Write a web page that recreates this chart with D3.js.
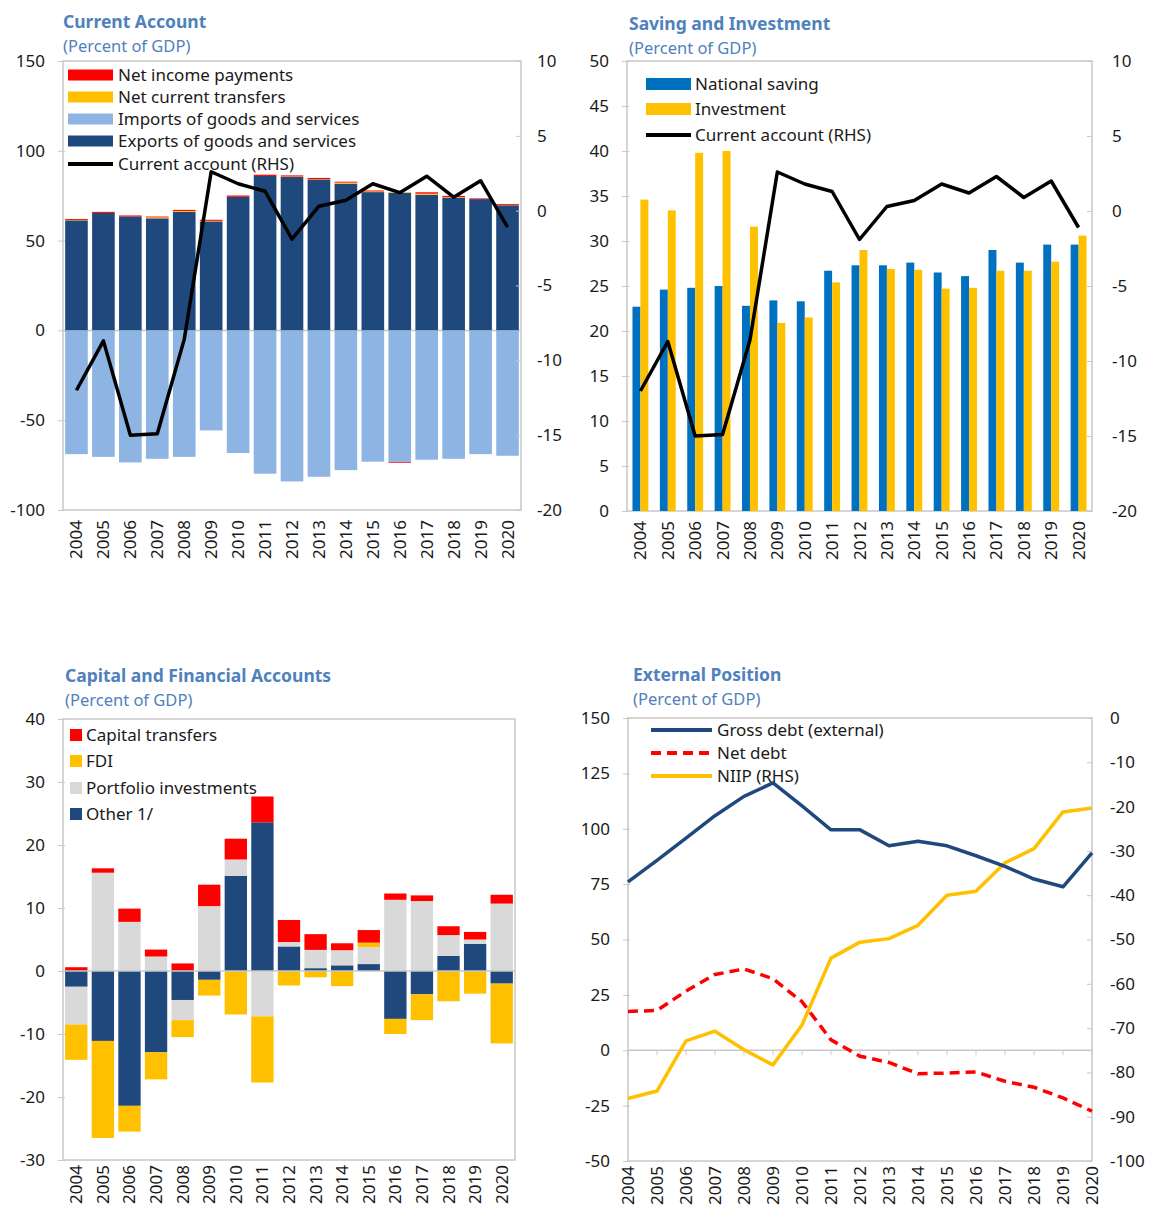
<!DOCTYPE html>
<html><head><meta charset="utf-8">
<script src="https://cdn.jsdelivr.net/npm/d3@7/dist/d3.min.js"></script>
<style>
body{margin:0;background:#fff;}
text{font-family:"Noto Sans","Open Sans",sans-serif;}
</style></head>
<body>
<svg id="c" width="1149" height="1212"></svg>
<script>
// ---------------- DATA ----------------
const years = ["2004","2005","2006","2007","2008","2009","2010","2011","2012","2013","2014","2015","2016","2017","2018","2019","2020"];

// Panel 1: Current Account (percent of GDP)
const caExports   = [61.3,65.4,63.4,62.4,66.0,60.7,74.4,86.0,85.4,84.1,81.7,77.0,76.6,75.5,74.0,73.1,69.7];
const caImports   = [-68.9,-70.4,-73.5,-71.5,-70.4,-55.7,-68.3,-79.8,-84.1,-81.5,-77.8,-73.1,-73.3,-72.0,-71.5,-68.9,-69.8];
const caTransfers = [0.2,0,0,0.6,0.5,0.3,0,0,0.3,0.2,0.6,0.4,0.4,0.6,0.3,0,0.2];
const caIncome    = [0.5,0.6,0.6,0.4,0.6,0.6,0.7,0.7,0.6,0.6,0.5,0.5,-0.4,0.8,0.6,0.4,0.5];
const caBalance   = [-12.0,-8.7,-15.0,-14.9,-8.6,2.6,1.8,1.3,-1.9,0.3,0.7,1.8,1.2,2.3,0.9,2.0,-1.1];

// Panel 2: Saving and Investment
const nationalSaving = [22.7,24.6,24.8,25.0,22.8,23.4,23.3,26.7,27.3,27.3,27.6,26.5,26.1,29.0,27.6,29.6,29.6];
const investment     = [34.6,33.4,39.8,40.0,31.6,20.9,21.5,25.4,29.0,26.9,26.8,24.7,24.8,26.7,26.7,27.7,30.6];

// Panel 3: Capital and Financial Accounts
const cfOther     = [-2.5,-11.1,-21.4,-12.9,-4.6,-1.4,15.1,23.6,3.9,0.45,0.9,1.1,-7.6,-3.7,2.4,4.3,-2.0];
const cfPortfolio = [-6.0,15.6,7.8,2.3,-3.2,10.3,2.6,-7.2,0.7,2.9,2.4,2.7,11.3,11.1,3.3,0.7,10.7];
const cfFDI       = [-5.6,-15.4,-4.1,-4.3,-2.7,-2.5,-6.9,-10.5,-2.3,-1.0,-2.4,0.7,-2.4,-4.1,-4.8,-3.6,-9.5];
const cfCapital   = [0.6,0.7,2.1,1.1,1.2,3.4,3.3,4.1,3.5,2.5,1.1,2.0,1.0,0.9,1.4,1.2,1.4];

// Panel 4: External Position
const grossDebt = [76.0,85.7,95.8,105.9,114.6,120.7,110.3,99.5,99.5,92.3,94.4,92.3,87.8,83.0,77.3,73.8,89.1];
const netDebt   = [17.5,18.0,26.7,34.2,36.7,32.3,21.9,4.7,-2.7,-5.5,-10.6,-10.3,-9.8,-14.0,-16.7,-21.5,-27.5];
const niip      = [-85.9,-84.2,-72.9,-70.7,-74.9,-78.3,-69.3,-54.2,-50.6,-49.8,-46.8,-40.0,-39.1,-32.7,-29.5,-21.2,-20.3];

// Tick labels
const p1Left = [150,100,50,0,-50,-100], p1Right = [10,5,0,-5,-10,-15,-20];
const p2Left = [0,5,10,15,20,25,30,35,40,45,50], p2Right = [10,5,0,-5,-10,-15,-20];
const p3Left = [40,30,20,10,0,-10,-20,-30];
const p4Left = [150,125,100,75,50,25,0,-25,-50], p4Right = [0,-10,-20,-30,-40,-50,-60,-70,-80,-90,-100];

// ---------------- STYLE ----------------
const C = {
  darkBlue:"#1F497D", lightBlue:"#8DB4E2", red:"#FF0000", yellow:"#FFC000",
  blue:"#0070C0", gray:"#D9D9D9", title:"#4F81BD", frame:"#C8C8C8", text:"#1a1a1a"
};
const FS = 17;
const LFS = 17;
const svg = d3.select("#c");
const fmt = d => String(d);

function frame(g, x0, x1, y0, y1){
  g.append("rect").attr("x",x0).attr("y",y0).attr("width",x1-x0).attr("height",y1-y0)
   .attr("fill","none").attr("stroke",C.frame).attr("stroke-width",1.5);
}
function titles(x, y, t){
  svg.append("text").attr("x",x).attr("y",y).attr("fill",C.title).attr("font-weight","bold")
    .attr("font-size",17.5).text(t);
  svg.append("text").attr("x",x).attr("y",y+24).attr("fill",C.title).attr("font-size",16.5)
    .text("(Percent of GDP)");
}
function leftAxis(scale, ticks, x0, labelX){
  const ax = d3.axisLeft(scale).tickValues(ticks).tickFormat(fmt).tickSize(5).tickPadding(0);
  const g = svg.append("g").attr("transform",`translate(${x0},0)`).call(ax);
  g.select(".domain").remove();
  g.selectAll(".tick line").attr("stroke",C.frame).attr("x2",-5).attr("x1",2);
  g.selectAll(".tick text").attr("x",labelX - x0).attr("font-size",FS).attr("fill",C.text)
    .attr("font-family",'"Noto Sans",sans-serif').attr("text-anchor","end");
}
function rightAxis(scale, ticks, x1, labelX){
  const ax = d3.axisRight(scale).tickValues(ticks).tickFormat(fmt).tickSize(5).tickPadding(0);
  const g = svg.append("g").attr("transform",`translate(${x1},0)`).call(ax);
  g.select(".domain").remove();
  g.selectAll(".tick line").attr("stroke",C.frame).attr("x1",-5).attr("x2",0);
  g.selectAll(".tick text").attr("x",labelX - x1).attr("font-size",FS).attr("fill",C.text)
    .attr("font-family",'"Noto Sans",sans-serif').attr("text-anchor","start");
}
function xLabels(posFn, yTop){
  svg.append("g").selectAll("text").data(years).join("text")
    .attr("transform",d=>`translate(${posFn(d)+6},${yTop}) rotate(-90)`)
    .attr("text-anchor","end").attr("font-size",FS).attr("fill",C.text).text(d=>d);
}
function legendRect(items, x, w, h, tx){
  items.forEach(it=>{
    if(it.line){
      svg.append("line").attr("x1",x).attr("x2",x+w).attr("y1",it.y).attr("y2",it.y)
        .attr("stroke",it.color).attr("stroke-width",4).attr("stroke-dasharray",it.dash||null);
    } else {
      svg.append("rect").attr("x",x).attr("y",it.y-h/2).attr("width",w).attr("height",h).attr("fill",it.color);
    }
    svg.append("text").attr("x",tx).attr("y",it.y).attr("dy","0.35em").attr("font-size",LFS)
      .attr("fill",C.text).text(it.label);
  });
}

// ---------------- PANEL 1 ----------------
(function(){
  const X0=63,X1=521,Y0=61,Y1=510;
  const g = svg.append("g");
  frame(g,X0,X1,Y0,Y1);
  const x = d3.scaleBand().domain(years).range([X0,X1]).paddingInner(0.16).paddingOuter(0.08);
  const y = d3.scaleLinear().domain([-100,150]).range([Y1,Y0]);
  const yR = d3.scaleLinear().domain([-20,10]).range([Y1,Y0]);
  const rows = years.map((yr,i)=>({year:yr, exports:caExports[i], imports:caImports[i], transfers:caTransfers[i], income:caIncome[i]}));
  const keys = ["exports","imports","transfers","income"];
  const col = {exports:C.darkBlue, imports:C.lightBlue, transfers:C.yellow, income:C.red};
  const st = d3.stack().keys(keys).offset(d3.stackOffsetDiverging)(rows);
  g.append("line").attr("x1",X0).attr("x2",X1).attr("y1",y(0)).attr("y2",y(0)).attr("stroke",C.frame).attr("stroke-width",1.5);
  st.forEach(s=>{
    g.append("g").selectAll("rect").data(s).join("rect")
      .attr("x",d=>x(d.data.year)).attr("width",x.bandwidth())
      .attr("y",d=>y(Math.max(d[0],d[1]))).attr("height",d=>Math.abs(y(d[0])-y(d[1])))
      .attr("fill",col[s.key]);
  });
  const line = d3.line().x((d,i)=>x(years[i])+x.bandwidth()/2).y(d=>yR(d));
  g.append("path").attr("d",line(caBalance)).attr("fill","none").attr("stroke","#000").attr("stroke-width",3.5).attr("stroke-linejoin","round");
  leftAxis(y,p1Left,X0,45);
  rightAxis(yR,p1Right,X1,537);
  xLabels(d=>x(d)+x.bandwidth()/2, Y1+10);
  titles(63,28,"Current Account");
  legendRect([
    {y:75,color:C.red,label:"Net income payments"},
    {y:97,color:C.yellow,label:"Net current transfers"},
    {y:119,color:C.lightBlue,label:"Imports of goods and services"},
    {y:141,color:C.darkBlue,label:"Exports of goods and services"},
    {y:164,color:"#000",label:"Current account (RHS)",line:true}
  ],68,45,11,118);
})();

// ---------------- PANEL 2 ----------------
(function(){
  const X0=627,X1=1092,Y0=61,Y1=511;
  const g = svg.append("g");
  frame(g,X0,X1,Y0,Y1);
  const x = d3.scaleBand().domain(years).range([X0,X1]).paddingInner(0.42).paddingOuter(0.2);
  const x1 = d3.scaleBand().domain(["s","i"]).range([0,x.bandwidth()]);
  const y = d3.scaleLinear().domain([0,50]).range([Y1,Y0]);
  const yR = d3.scaleLinear().domain([-20,10]).range([Y1,Y0]);
  const rows = years.map((yr,i)=>({year:yr, s:nationalSaving[i], i:investment[i]}));
  g.append("g").selectAll("rect").data(rows).join("rect")
    .attr("x",d=>x(d.year)+x1("s")).attr("width",x1.bandwidth())
    .attr("y",d=>y(d.s)).attr("height",d=>y(0)-y(d.s)).attr("fill",C.blue);
  g.append("g").selectAll("rect").data(rows).join("rect")
    .attr("x",d=>x(d.year)+x1("i")).attr("width",x1.bandwidth())
    .attr("y",d=>y(d.i)).attr("height",d=>y(0)-y(d.i)).attr("fill",C.yellow);
  const line = d3.line().x((d,i)=>x(years[i])+x.bandwidth()/2).y(d=>yR(d));
  g.append("path").attr("d",line(caBalance)).attr("fill","none").attr("stroke","#000").attr("stroke-width",3.5).attr("stroke-linejoin","round");
  leftAxis(y,p2Left,X0,609);
  rightAxis(yR,p2Right,X1,1112);
  xLabels(d=>x(d)+x.bandwidth()/2, Y1+10);
  titles(629,30,"Saving and Investment");
  legendRect([
    {y:84,color:C.blue,label:"National saving"},
    {y:109,color:C.yellow,label:"Investment"},
    {y:135,color:"#000",label:"Current account (RHS)",line:true}
  ],646,45,12,695);
})();

// ---------------- PANEL 3 ----------------
(function(){
  const X0=63,X1=515,Y0=719,Y1=1160;
  const g = svg.append("g");
  frame(g,X0,X1,Y0,Y1);
  const x = d3.scaleBand().domain(years).range([X0,X1]).paddingInner(0.16).paddingOuter(0.08);
  const y = d3.scaleLinear().domain([-30,40]).range([Y1,Y0]);
  const rows = years.map((yr,i)=>({year:yr, other:cfOther[i], portfolio:cfPortfolio[i], fdi:cfFDI[i], capital:cfCapital[i]}));
  const keys = ["other","portfolio","fdi","capital"];
  const col = {other:C.darkBlue, portfolio:C.gray, fdi:C.yellow, capital:C.red};
  const st = d3.stack().keys(keys).offset(d3.stackOffsetDiverging)(rows);
  st.forEach(s=>{
    g.append("g").selectAll("rect").data(s).join("rect")
      .attr("x",d=>x(d.data.year)).attr("width",x.bandwidth())
      .attr("y",d=>y(Math.max(d[0],d[1]))).attr("height",d=>Math.abs(y(d[0])-y(d[1])))
      .attr("fill",col[s.key]);
  });
  g.append("line").attr("x1",X0).attr("x2",X1).attr("y1",y(0)).attr("y2",y(0)).attr("stroke",C.frame).attr("stroke-width",1.5);
  leftAxis(y,p3Left,X0,45);
  xLabels(d=>x(d)+x.bandwidth()/2, Y1+5);
  titles(65,682,"Capital and Financial Accounts");
  legendRect([
    {y:735,color:C.red,label:"Capital transfers"},
    {y:761,color:C.yellow,label:"FDI"},
    {y:788,color:C.gray,label:"Portfolio investments"},
    {y:814,color:C.darkBlue,label:"Other 1/"}
  ],70,12,12,86);
})();

// ---------------- PANEL 4 ----------------
(function(){
  const X0=628,X1=1092,Y0=718,Y1=1161;
  const g = svg.append("g");
  frame(g,X0,X1,Y0,Y1);
  const x = d3.scalePoint().domain(years).range([X0,X1]);
  const y = d3.scaleLinear().domain([-50,150]).range([Y1,Y0]);
  const yR = d3.scaleLinear().domain([-100,0]).range([Y1,Y0]);
  g.append("line").attr("x1",X0).attr("x2",X1).attr("y1",y(0)).attr("y2",y(0)).attr("stroke",C.frame).attr("stroke-width",1.5);
  g.append("g").selectAll("line").data(years).join("line")
    .attr("x1",d=>x(d)).attr("x2",d=>x(d)).attr("y1",y(0)).attr("y2",y(0)+5).attr("stroke",C.frame);
  const lineL = d3.line().x((d,i)=>x(years[i])).y(d=>y(d));
  const lineR = d3.line().x((d,i)=>x(years[i])).y(d=>yR(d));
  g.append("path").attr("d",lineR(niip)).attr("fill","none").attr("stroke",C.yellow).attr("stroke-width",3.5).attr("stroke-linejoin","round");
  g.append("path").attr("d",lineL(netDebt)).attr("fill","none").attr("stroke",C.red).attr("stroke-width",3.5).attr("stroke-dasharray","10,6");
  g.append("path").attr("d",lineL(grossDebt)).attr("fill","none").attr("stroke",C.darkBlue).attr("stroke-width",3.5).attr("stroke-linejoin","round");
  leftAxis(y,p4Left,X0,610);
  rightAxis(yR,p4Right,X1,1110);
  xLabels(d=>x(d), Y1+5);
  titles(633,681,"External Position");
  legendRect([
    {y:730,color:C.darkBlue,label:"Gross debt (external)",line:true},
    {y:753,color:C.red,label:"Net debt",line:true,dash:"10,6"},
    {y:776,color:C.yellow,label:"NIIP (RHS)",line:true}
  ],651,61,0,717);
})();
</script>
</body></html>
